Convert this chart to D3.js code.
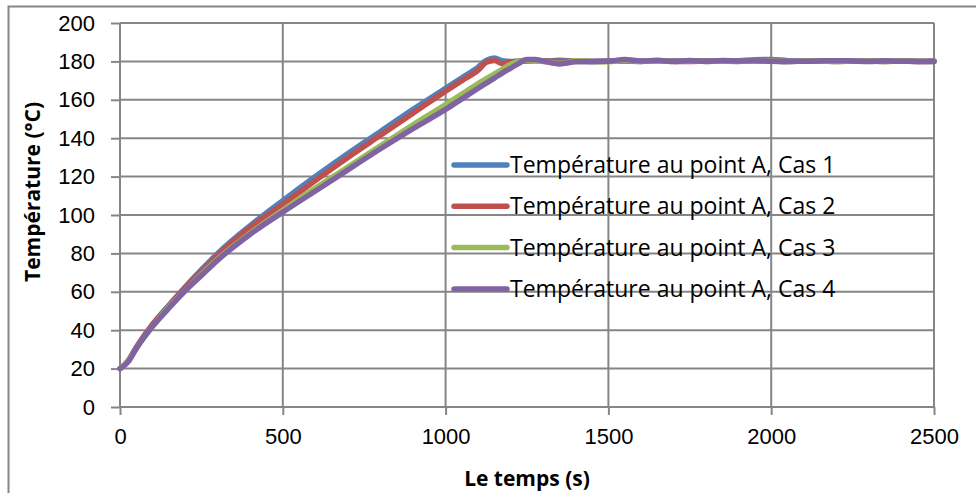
<!DOCTYPE html>
<html>
<head>
<meta charset="utf-8">
<script src="https://cdn.jsdelivr.net/npm/d3@7"></script>
<style>
	body { margin: 0; background: #fff; }
	svg { display: block; font-family: "Open Sans", Lato, sans-serif; }
	.grid line { stroke: #868686; stroke-width: 2; }
	.axis path, .axis line { stroke: #868686; stroke-width: 2; }
	.axis text { font-size: 22px; fill: #000; }
	.serie { fill: none; stroke-width: 5.5; stroke-linejoin: round; stroke-linecap: round; }
	.lbl { font-size: 21px; font-weight: bold; }
	.leg text { font-size: 23px; }
</style>
</head>
<body>
<svg id="svg" width="976" height="493"></svg>
<script>
// temps (s)
var times = [0, 25, 50, 100, 150, 200, 250, 300, 400, 500, 600, 700, 800, 900, 1000, 1050, 1100,
	1125, 1150, 1175, 1200, 1225, 1250, 1275, 1300, 1350, 1400, 1450, 1500, 1550, 1600, 1650, 1700,
	1750, 1800, 1850, 1900, 1950, 2000, 2050, 2100, 2150, 2200, 2250, 2300, 2350, 2400, 2450, 2500];

var cas1 = [20, 24, 31, 43, 53, 62.5, 71.5, 80, 94.5, 107.5, 120, 132, 143.5, 155, 166, 171.5, 177,
	180.5, 181.8, 180.3, 180, 180.2, 180.5, 180.3, 180.2, 180.6, 180.2, 180, 180.2, 180.5, 180.1, 180.4, 180.3,
	180.2, 180.4, 180.1, 180.3, 180.9, 181, 180.4, 180.2, 180.3, 180.2, 180.4, 180.2, 180.3, 180.2, 180.1, 180.2];

var cas2 = [20, 24, 31, 43, 52.5, 62, 70.5, 79, 93.5, 105.5, 118, 130, 141.5, 153, 164.5, 170, 175.5,
	179.5, 180.5, 178.8, 179.8, 180, 180.2, 180.5, 180.3, 180, 180.2, 179.9, 180.1, 180.2, 180, 180.3, 180.1,
	180, 180.2, 180.1, 180, 180.3, 180.2, 180, 180.1, 180.2, 180, 180.1, 180.2, 180, 180.1, 180, 180.1];

var cas3 = [20, 24, 30.5, 42, 52, 60.5, 69, 77, 90.5, 102.5, 114, 125, 136, 147, 157.5, 163, 168.5,
	171, 173.5, 176, 178.5, 180, 180.6, 180.4, 180, 179, 180.3, 180, 179.8, 180.6, 180, 180.4, 179.9,
	180.3, 180, 180.2, 180.1, 180.3, 180.2, 180, 180.2, 180.1, 180, 180.2, 180.1, 180, 180.1, 180, 180];

var cas4 = [20, 23.5, 30.5, 42, 51.5, 60.5, 68.5, 76.5, 90, 101.5, 112.5, 123.5, 134.5, 145, 155, 160.5, 166,
	168.7, 171.3, 174, 176.5, 179, 181, 181, 180.2, 178.7, 179.8, 180, 180.1, 181, 180.2, 180.6, 179.9,
	180.5, 180, 180.5, 180.2, 180.4, 180.1, 180, 180.1, 180.2, 180.4, 180.2, 180, 180.2, 180.1, 180, 180];

var names = ["Température au point A, Cas 1", "Température au point A, Cas 2",
	"Température au point A, Cas 3", "Température au point A, Cas 4"];
var colors = ["#4F81BD", "#C0504D", "#9BBB59", "#8064A2"];
var xTicks = [0, 500, 1000, 1500, 2000, 2500];
var yTicks = [0, 20, 40, 60, 80, 100, 120, 140, 160, 180, 200];

var svg = d3.select("svg");
var margin = {top: 23, right: 42, bottom: 86, left: 120},
	width = 976 - margin.left - margin.right,
	height = 493 - margin.top - margin.bottom;

// cadre du graphique
svg.append("rect")
	.attr("x", 8.5).attr("y", 6.5)
	.attr("width", 990).attr("height", 500)
	.attr("fill", "none").attr("stroke", "#868686").attr("stroke-width", 2);

var g = svg.append("g")
	.attr("transform", "translate(" + margin.left + "," + margin.top + ")");

var x = d3.scaleLinear().domain([0, 2500]).range([0, width]),
	y = d3.scaleLinear().domain([0, 200]).range([height, 0]);

// grille
g.append("g").attr("class", "grid")
	.selectAll("line").data(yTicks).enter().append("line")
	.attr("x1", 0).attr("x2", width)
	.attr("y1", function(d) { return y(d); }).attr("y2", function(d) { return y(d); });
g.append("g").attr("class", "grid")
	.selectAll("line").data(xTicks).enter().append("line")
	.attr("y1", 0).attr("y2", height)
	.attr("x1", function(d) { return x(d); }).attr("x2", function(d) { return x(d); });

// axes
var xAxis = g.append("g")
	.attr("class", "axis")
	.attr("transform", "translate(0," + height + ")")
	.call(d3.axisBottom(x).tickValues(xTicks).tickFormat(d3.format("d"))
		.tickSize(8).tickPadding(13).tickSizeOuter(0));
var yAxis = g.append("g")
	.attr("class", "axis")
	.call(d3.axisLeft(y).tickValues(yTicks).tickSize(9).tickPadding(16).tickSizeOuter(0));
xAxis.select(".domain").remove();
yAxis.select(".domain").remove();

// courbes
var series = [cas1, cas2, cas3, cas4];
var line = d3.line()
	.x(function(d, i) { return x(times[i]); })
	.y(function(d) { return y(d); })
	.curve(d3.curveMonotoneX);

g.selectAll(".serie")
	.data(series)
	.enter().append("path")
	.attr("class", "serie")
	.attr("stroke", function(d, i) { return colors[i]; })
	.attr("d", line);

// légende
var leg = g.selectAll(".leg")
	.data(names)
	.enter().append("g")
	.attr("class", "leg")
	.attr("transform", function(d, i) { return "translate(" + 334 + "," + (142 + i * 41.3) + ")"; });
leg.append("line")
	.attr("x1", 0).attr("x2", 53)
	.attr("stroke", function(d, i) { return colors[i]; })
	.attr("stroke-width", 5.5).attr("stroke-linecap", "round");
leg.append("text")
	.attr("x", 56).attr("dy", "0.35em")
	.text(function(d) { return d; });

// titres des axes
svg.append("text")
	.attr("class", "lbl")
	.attr("x", 527).attr("y", 486)
	.attr("text-anchor", "middle")
	.text("Le temps (s)");
svg.append("text")
	.attr("class", "lbl")
	.attr("transform", "translate(40,192) rotate(-90)")
	.attr("text-anchor", "middle")
	.text("Température (°C)");
</script>
</body>
</html>
